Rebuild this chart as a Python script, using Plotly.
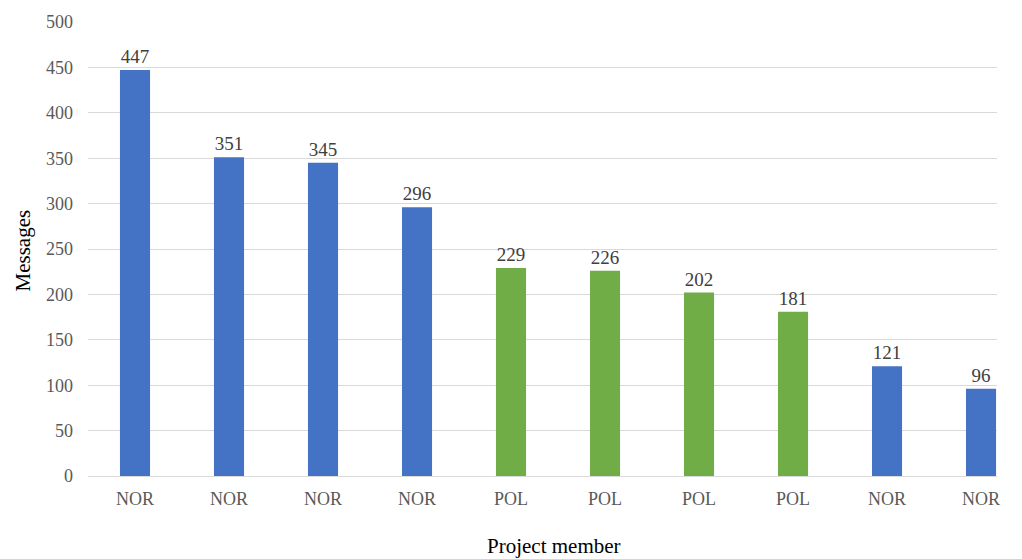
import plotly.graph_objects as go

# Messages sent per project member, ordered from most to fewest
members = ["NOR", "NOR", "NOR", "NOR", "POL", "POL", "POL", "POL", "NOR", "NOR"]
messages = [447, 351, 345, 296, 229, 226, 202, 181, 121, 96]
y_ticks = [0, 50, 100, 150, 200, 250, 300, 350, 400, 450, 500]

colour_by_country = {"NOR": "#4472C4", "POL": "#70AD47"}
bar_colours = [colour_by_country[m] for m in members]
positions = list(range(len(members)))

W, H = 1022, 559
left, right_px, top, bottom_px = 88, 997, 15, 476
serif = "Liberation Serif"

fig = go.Figure(
    go.Bar(
        x=positions,
        y=messages,
        width=0.32,
        marker=dict(color=bar_colours, line=dict(width=0)),
        text=[str(v) for v in messages],
        textposition="outside",
        textfont=dict(family=serif, size=19, color="#404040"),
        cliponaxis=False,
        hoverinfo="skip",
    )
)

fig.update_layout(
    width=W,
    height=H,
    margin=dict(l=left, r=W - right_px, t=top, b=H - bottom_px),
    paper_bgcolor="white",
    plot_bgcolor="white",
    showlegend=False,
    font=dict(family=serif, color="#595959"),
    xaxis=dict(
        range=[-0.5, 9.17],
        tickmode="array",
        tickvals=positions,
        ticktext=members,
        tickfont=dict(family=serif, size=18, color="#595959"),
        showgrid=False,
        zeroline=False,
        showline=False,
        ticks="",
        ticklabelstandoff=10,
    ),
    yaxis=dict(
        range=[0, 500],
        tickmode="array",
        tickvals=y_ticks,
        tickfont=dict(family=serif, size=18, color="#595959"),
        showgrid=True,
        gridcolor="#D9D9D9",
        gridwidth=1,
        zeroline=True,
        zerolinecolor="#D9D9D9",
        zerolinewidth=1,
        showline=False,
        ticks="",
        ticklabelstandoff=14,
    ),
    annotations=[
        dict(
            text="Project member",
            xref="paper", yref="paper",
            x=(554 - left) / (right_px - left), y=-(547 - bottom_px) / (bottom_px - top),
            xanchor="center", yanchor="middle",
            showarrow=False,
            font=dict(family=serif, size=21, color="#000000"),
        ),
        dict(
            text="Messages",
            xref="paper", yref="paper",
            x=-(left - 23) / (right_px - left), y=(bottom_px - 247) / (bottom_px - top),
            xanchor="center", yanchor="middle",
            textangle=-90,
            showarrow=False,
            font=dict(family=serif, size=21, color="#000000"),
        ),
    ],
)

fig.write_html("out.html")
